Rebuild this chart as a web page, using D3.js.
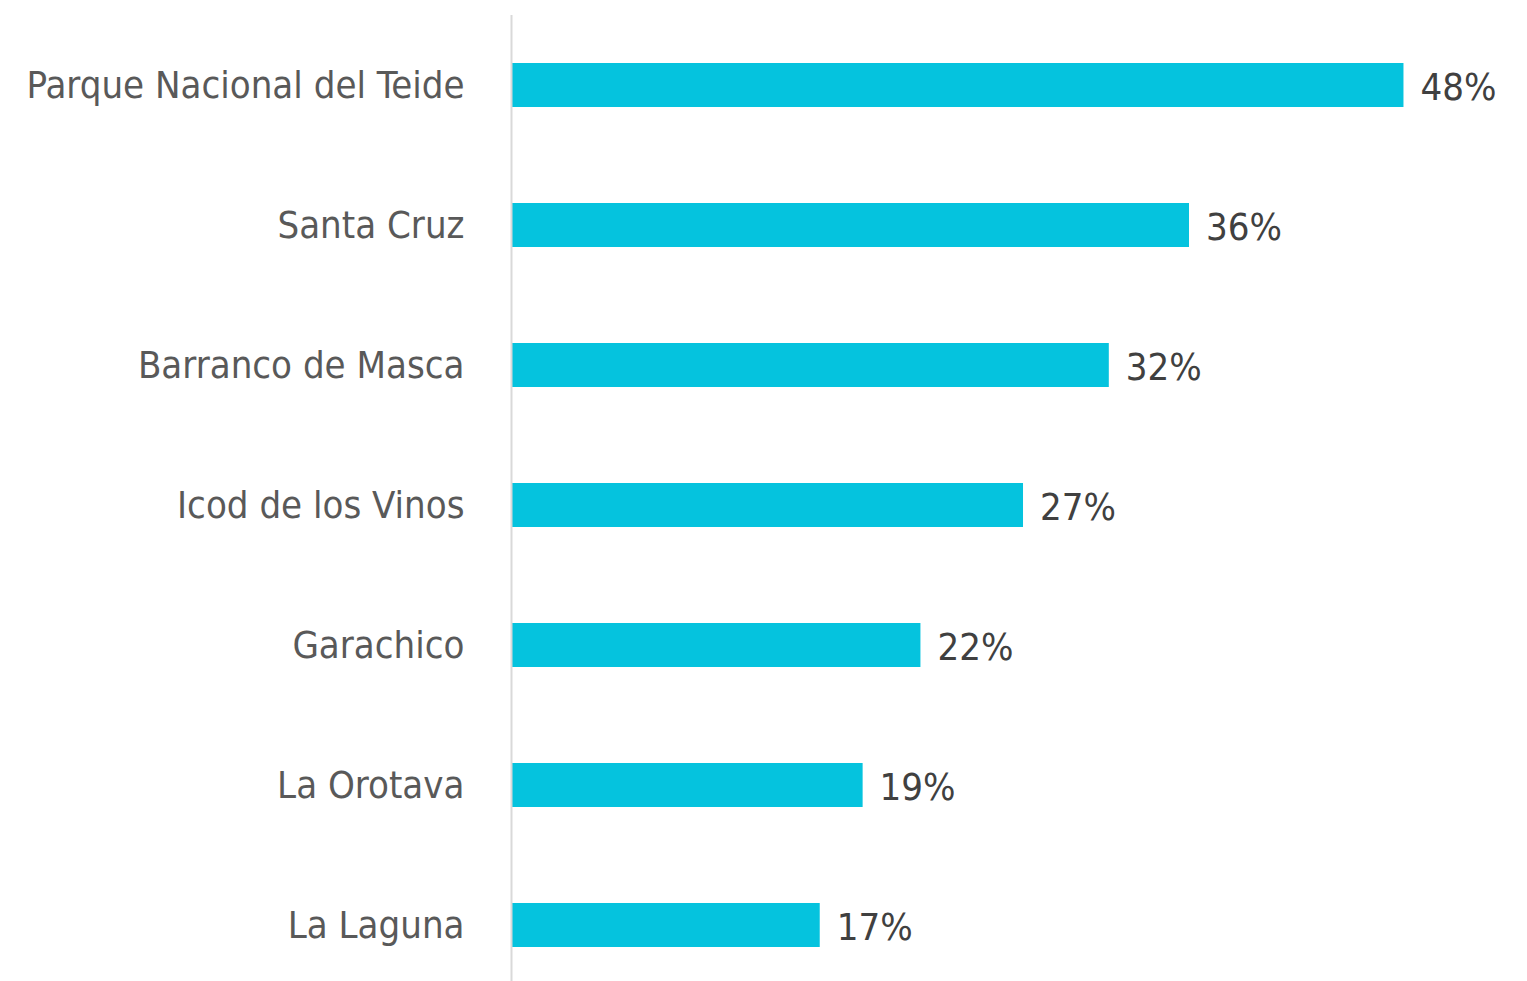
<!DOCTYPE html>
<html>
<head>
<meta charset="utf-8">
<script src="https://cdn.jsdelivr.net/npm/d3@7"></script>
<style>
  body { margin: 0; background: #fff; }
  svg text { font-family: "Liberation Sans Narrow", "DejaVu Sans Condensed", "Roboto", sans-serif; }
</style>
</head>
<body>
<svg id="chart" width="1527" height="981"></svg>
<script>
// categories top to bottom
const places = ["Parque Nacional del Teide", "Santa Cruz", "Barranco de Masca",
  "Icod de los Vinos", "Garachico", "La Orotava", "La Laguna"];
// share of visitors (%)
const shares = [47.8, 36.3, 32.0, 27.4, 21.9, 18.8, 16.5];

const WIDTH = 1527;
const HEIGHT = 981;
const AXIS_X = 512;

let svg = d3.select("#chart");

// x scale: 1% ~ 18.65px
let xScale = d3.scaleLinear()
  .domain([0, 50])
  .range([AXIS_X, AXIS_X + 50 * 18.65]);

let yScale = d3.scaleBand()
  .domain(places)
  .range([15, 995])
  .paddingInner(0.6857)
  .paddingOuter(0.3429);

let rows = places.map((p, i) => ({place: p, value: shares[i]}));

// bars
svg.append("g")
  .selectAll("rect")
  .data(rows)
  .join("rect")
  .attr("x", xScale(0))
  .attr("y", d => yScale(d.place))
  .attr("width", d => xScale(d.value) - xScale(0))
  .attr("height", yScale.bandwidth())
  .attr("fill", "#05c3de");

// vertical axis line with category labels
let yaxis = d3.axisLeft(yScale).tickSize(0).tickPadding(47);
let y_axis = svg.append("g")
  .attr("transform", "translate(" + (AXIS_X - 0.5) + ",0)")
  .call(yaxis);
y_axis.select(".domain")
  .attr("d", "M0,15V981")
  .attr("stroke", "#d9d9d9")
  .attr("stroke-width", 2);
y_axis.selectAll(".tick text")
  .attr("fill", "#595959")
  .attr("font-size", 38)
  .attr("dy", "0.35em");

// value labels
svg.append("g")
  .selectAll("text")
  .data(rows)
  .join("text")
  .attr("x", d => xScale(d.value) + 17)
  .attr("y", d => yScale(d.place) + yScale.bandwidth() / 2 + 2)
  .attr("dy", "0.35em")
  .attr("fill", "#404040")
  .attr("font-size", 38)
  .text(d => Math.round(d.value) + "%");
</script>
</body>
</html>
